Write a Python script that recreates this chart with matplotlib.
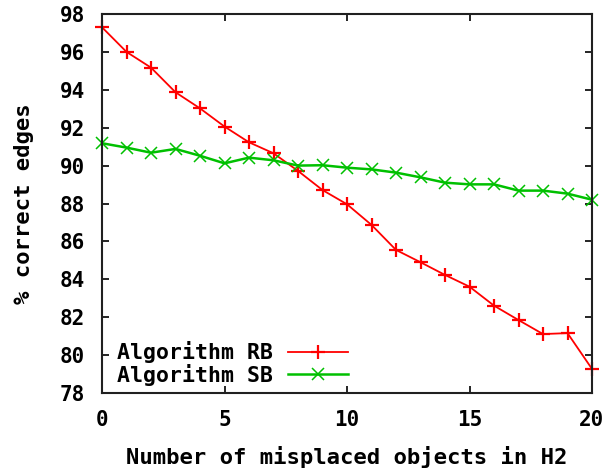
import matplotlib
matplotlib.use("Agg")
import matplotlib.pyplot as plt

# Number of misplaced objects in H2
misplaced = list(range(0, 21))

# % correct edges per algorithm
rb_correct = [97.30, 96.00, 95.17, 93.87, 93.02, 92.06, 91.23, 90.65, 89.72, 88.71,
              87.96, 86.87, 85.55, 84.90, 84.23, 83.61, 82.61, 81.85, 81.11, 81.16, 79.27]
sb_correct = [91.18, 90.95, 90.68, 90.88, 90.52, 90.12, 90.42, 90.28, 90.00, 90.02,
              89.89, 89.80, 89.63, 89.38, 89.10, 89.01, 89.01, 88.68, 88.68, 88.52, 88.20]

x_ticks = [0, 5, 10, 15, 20]
y_ticks = [78, 80, 82, 84, 86, 88, 90, 92, 94, 96, 98]

plt.rcParams['font.family'] = ['DejaVu Sans Mono']
plt.rcParams['font.weight'] = 'bold'

fig = plt.figure(figsize=(6.13, 4.70), dpi=100)
ax = fig.add_axes([102 / 613, 1 - 393 / 470, 490 / 613, 379 / 470])

ax.plot(misplaced, rb_correct, color='#ff0000', lw=1.3, marker='+',
        markersize=9.5, markeredgewidth=1.6, label='Algorithm RB', clip_on=False)
ax.plot(misplaced, sb_correct, color='#00c000', lw=1.8, marker='x',
        markersize=8, markeredgewidth=1.1, label='Algorithm SB', clip_on=False)

ax.set_xlim(0, 20)
ax.set_ylim(78, 98)
ax.set_xticks(x_ticks)
ax.set_yticks(y_ticks)
ax.tick_params(direction='in', length=5, width=1.2, top=True, right=True,
               labelsize=15, color='black')
ax.tick_params(axis='x', pad=12)
ax.tick_params(axis='y', pad=12)
for spine in ax.spines.values():
    spine.set_linewidth(1.5)
    spine.set_color('#202020')

ax.set_xlabel('Number of misplaced objects in H2', fontsize=16, fontweight='bold', labelpad=12)
ax.set_ylabel('% correct edges', fontsize=16, fontweight='bold', labelpad=19)

ax.legend(loc='lower left', bbox_to_anchor=(0.0, -0.02), frameon=False,
          markerfirst=False, handlelength=2.8, handletextpad=0.7,
          labelspacing=0.02, borderpad=0.2, fontsize=15.5)

fig.savefig('out.png', dpi=100)
